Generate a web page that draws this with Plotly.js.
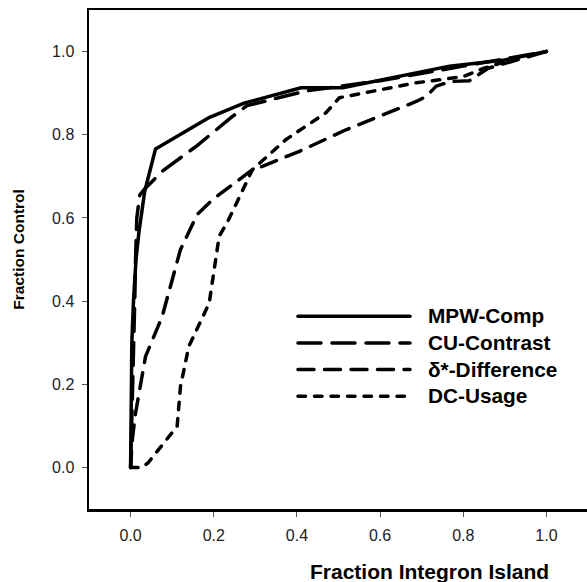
<!DOCTYPE html>
<html>
<head>
<meta charset="utf-8">
<script src="https://cdn.plot.ly/plotly-3.0.1.min.js"></script>
<style>
  html, body { margin: 0; padding: 0; overflow: hidden; background: #fff; }
  #chart { width: 588px; height: 582px; }
  .js-line { stroke-linecap: round; stroke-linejoin: round; }
  .legend .scrollbox, .legend g, .legend { clip-path: none !important; }
  .legend .legendtext { font-size: 20.8px !important; transform: translateX(13px); }
</style>
</head>
<body>
<div id="chart"></div>
<script>
// ---- data ----
const seriesNames = ["MPW-Comp", "CU-Contrast", "δ*-Difference", "DC-Usage"];

const mpwX = [0, 0.001, 0.003, 0.007, 0.013, 0.02, 0.034, 0.06, 0.19, 0.27, 0.41, 0.51, 0.606, 0.767, 0.9, 1.0];
const mpwY = [0, 0.2, 0.3, 0.4, 0.5, 0.565, 0.664, 0.766, 0.842, 0.875, 0.913, 0.913, 0.933, 0.965, 0.98, 1.0];

const cuX = [0, 0.003, 0.007, 0.01, 0.012, 0.015, 0.022, 0.036, 0.076, 0.16, 0.245, 0.28, 0.42, 0.6, 0.8, 1.0];
const cuY = [0, 0.1, 0.25, 0.4, 0.5, 0.6, 0.655, 0.672, 0.712, 0.774, 0.844, 0.87, 0.905, 0.93, 0.965, 1.0];

const deltaX = [0, 0.002, 0.004, 0.012, 0.036, 0.076, 0.12, 0.16, 0.197, 0.293, 0.317, 0.406, 0.518, 0.687, 0.711, 0.735, 0.77, 0.815, 0.86, 0.93, 1.0];
const deltaY = [0, 0.03, 0.066, 0.131, 0.267, 0.363, 0.524, 0.608, 0.644, 0.716, 0.724, 0.76, 0.812, 0.88, 0.892, 0.917, 0.928, 0.93, 0.96, 0.98, 1.0];

const dcX = [0, 0.028, 0.042, 0.1, 0.112, 0.12, 0.14, 0.189, 0.205, 0.213, 0.233, 0.277, 0.293, 0.373, 0.47, 0.502, 0.606, 0.687, 0.743, 0.8, 0.85, 0.93, 1.0];
const dcY = [0, 0, 0.011, 0.083, 0.099, 0.195, 0.291, 0.395, 0.5, 0.556, 0.59, 0.684, 0.716, 0.788, 0.853, 0.889, 0.909, 0.925, 0.932, 0.94, 0.96, 0.985, 1.0];

const tickVals = [0, 0.2, 0.4, 0.6, 0.8, 1.0];
const tickText = ["0.0", "0.2", "0.4", "0.6", "0.8", "1.0"];

const xTitle = "Fraction Integron Island";
const yTitle = "Fraction Control";

// ---- styles ----
const LW = 3.5;
const dashes = ["solid", "23px,11px", "16px,10.5px", "7.5px,9px"];
const xs = [mpwX, cuX, deltaX, dcX];
const ys = [mpwY, cuY, deltaY, dcY];

const traces = seriesNames.map((n, i) => ({
  x: xs[i], y: ys[i], name: n, type: "scatter", mode: "lines",
  line: { color: "#000", width: LW, dash: dashes[i] },
  hoverinfo: "skip"
}));

const FONT = "Liberation Sans, Arial, sans-serif";

const axisCommon = {
  range: [-0.1, 1.1],
  tickvals: tickVals, ticktext: tickText,
  ticks: "outside", ticklen: 5, tickwidth: 1, tickcolor: "#555",
  showline: true, mirror: true, linecolor: "#000", linewidth: 2.5,
  showgrid: false, zeroline: false,
  tickfont: { family: FONT, size: 16, color: "#222" },
  fixedrange: true
};

const layout = {
  width: 588, height: 582,
  margin: { l: 89, r: 0, t: 10, b: 73, pad: 0 },
  paper_bgcolor: "#fff", plot_bgcolor: "#fff",
  showlegend: true,
  legend: {
    x: 0.4088, y: 0.423, xanchor: "left", yanchor: "top",
    bgcolor: "rgba(0,0,0,0)", borderwidth: 0,
    itemwidth: 112,
    font: { family: FONT, size: 18.2, color: "#000", weight: "bold" },
    tracegroupgap: 0
  },
  xaxis: Object.assign({}, axisCommon, { ticklabelstandoff: 5 }),
  yaxis: Object.assign({}, axisCommon, { ticklabelstandoff: 4 }),
  annotations: [
    { text: xTitle, xref: "paper", yref: "paper", x: 0.682, y: -0.125,
      xanchor: "center", yanchor: "middle", showarrow: false,
      font: { family: FONT, size: 21, color: "#000", weight: "bold" } },
    { text: yTitle, xref: "paper", yref: "paper", x: -0.142, y: 0.52,
      xanchor: "center", yanchor: "middle", showarrow: false, textangle: -90,
      font: { family: FONT, size: 15.5, color: "#000", weight: "bold" } }
  ]
};

Plotly.newPlot("chart", traces, layout, { displayModeBar: false, staticPlot: true });
</script>
</body>
</html>
